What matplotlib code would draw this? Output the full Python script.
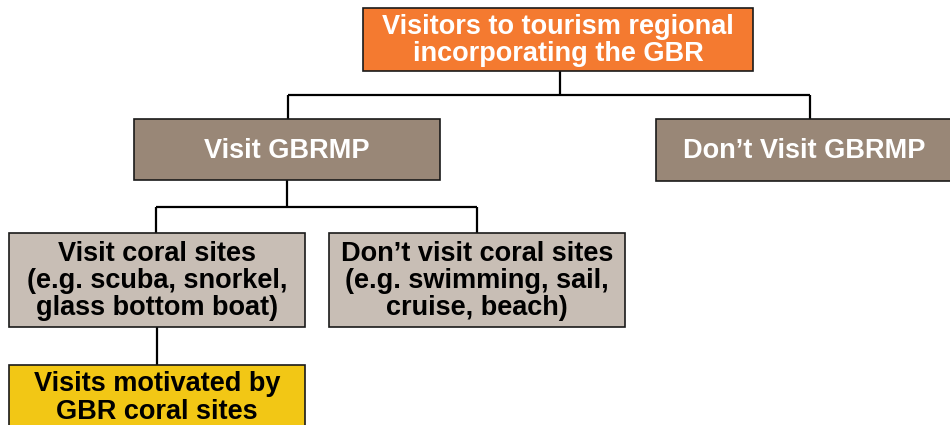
import matplotlib
matplotlib.use("Agg")
import matplotlib.pyplot as plt
from matplotlib.patches import Rectangle

# Node labels
root_label = "Visitors to tourism regional\nincorporating the GBR"
level1_labels = ["Visit GBRMP", "Don\u2019t Visit GBRMP"]
level2_labels = ["Visit coral sites\n(e.g. scuba, snorkel,\nglass bottom boat)",
                 "Don\u2019t visit coral sites\n(e.g. swimming, sail,\ncruise, beach)"]
level3_labels = ["Visits motivated by\nGBR coral sites"]

plt.rcParams['font.family'] = ['Liberation Sans', 'DejaVu Sans']

fig = plt.figure(figsize=(9.5, 4.25), dpi=100)
ax = fig.add_axes([0, 0, 1, 1])
ax.set_xlim(0, 950)
ax.set_ylim(425, 0)
ax.axis('off')

FS = 19.5
LS = 1.06

def box(x0, y0, x1, y1, fc, label, tc):
    ax.add_patch(Rectangle((x0, y0), x1 - x0, y1 - y0, facecolor=fc,
                           edgecolor='#1a1a1a', linewidth=1.2, zorder=2))
    ax.text((x0 + x1) / 2, (y0 + y1) / 2 + 1, label, ha='center', va='center',
            fontsize=FS, fontweight='bold', color=tc, linespacing=LS, zorder=3)

def line(xs, ys):
    ax.plot(xs, ys, color='black', linewidth=1.6, zorder=1, solid_capstyle='butt')

# connectors
line([560, 560], [71, 95])
line([288, 810], [95, 95])
line([288, 288], [95, 119])
line([810, 810], [95, 119])
line([287, 287], [180, 207])
line([156, 477], [207, 207])
line([156, 156], [207, 233])
line([477, 477], [207, 233])
line([157, 157], [327, 365])

# boxes
box(363, 8, 753, 71, '#F47A30', root_label, 'white')
box(134, 119, 440, 180, '#998777', level1_labels[0], 'white')
box(656, 119, 952, 181, '#998777', level1_labels[1], 'white')
box(9, 233, 305, 327, '#C8BEB5', level2_labels[0], 'black')
box(329, 233, 625, 327, '#C8BEB5', level2_labels[1], 'black')
ax.add_patch(Rectangle((9, 365), 296, 70, facecolor='#F2C715',
                       edgecolor='#1a1a1a', linewidth=1.2, zorder=2))
ax.text(157, 398, level3_labels[0], ha='center', va='center', fontsize=FS,
        fontweight='bold', color='black', linespacing=LS, zorder=3)

fig.savefig("out.png", dpi=100)
